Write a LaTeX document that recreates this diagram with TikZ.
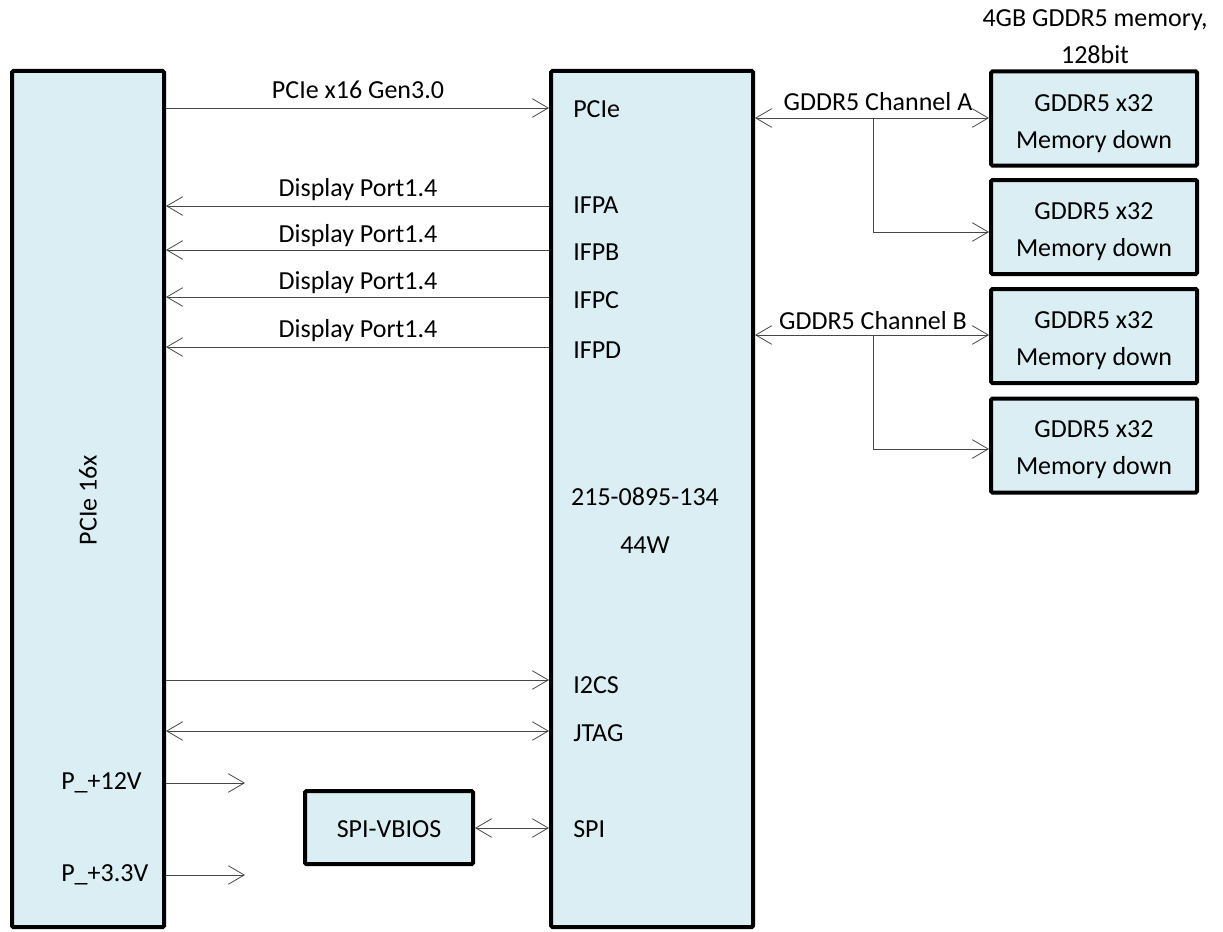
\documentclass[tikz,border=0pt]{standalone}
\usepackage{fontspec}
\setmainfont{Carlito}
\usetikzlibrary{arrows.meta}
\definecolor{boxfill}{RGB}{218,238,243}
\definecolor{wire}{RGB}{70,70,70}
\begin{document}
\begin{tikzpicture}[x=0.75pt,y=-0.75pt,
  every node/.style={font=\fontsize{19.5}{27.8}\selectfont},
  box/.style={draw=black, line width=3pt, fill=boxfill, rounded corners=1pt, inner sep=0pt},
  lbl/.style={inner sep=0pt},
  arr/.style={draw=wire, line width=0.75pt, -{Straight Barb[length=12pt,width=14pt,line width=0.6pt]}},
  biarr/.style={draw=wire, line width=0.75pt, {Straight Barb[length=12pt,width=14pt,line width=0.6pt]}-{Straight Barb[length=12pt,width=14pt,line width=0.6pt]}},
  wireline/.style={draw=wire, line width=0.75pt}]
\useasboundingbox (0,0) rectangle (1223,931);

% main boxes
\node[box, minimum width=114pt, minimum height=642pt] (L) at (88,499) {};
\node[lbl, rotate=90] (Ltxt) at (88,500) {PCIe 16x};
\node[box, minimum width=151.5pt, minimum height=642pt] (M) at (652,499) {};

% memory boxes
\node[box, minimum width=154.5pt, minimum height=70.5pt] (A1) at (1094,118.5) {};
\node[box, minimum width=154.5pt, minimum height=70.5pt] (A2) at (1094,227) {};
\node[box, minimum width=154.5pt, minimum height=70.5pt] (B1) at (1094,336) {};
\node[box, minimum width=154.5pt, minimum height=70.5pt] (B2) at (1094,445.5) {};
\node[lbl, align=center] (A1t) at (1094,123.5) {GDDR5 x32\\Memory down};
\node[lbl, align=center] (A2t) at (1094,232) {GDDR5 x32\\Memory down};
\node[lbl, align=center] (B1t) at (1094,340.5) {GDDR5 x32\\Memory down};
\node[lbl, align=center] (B2t) at (1094,450) {GDDR5 x32\\Memory down};
\node[lbl, align=center] (memtitle) at (1095,37) {4GB GDDR5 memory,\\128bit};

% SPI box
\node[box, minimum width=126pt, minimum height=54.75pt] (S) at (389,827.5) {};
\node[lbl] (St) at (389,829) {SPI-VBIOS};

% middle box texts
\node[lbl, anchor=west] (tPCIe) at (573,109) {PCIe};
\node[lbl, anchor=west] (tA) at (573,205) {IFPA};
\node[lbl, anchor=west] (tB) at (573,252) {IFPB};
\node[lbl, anchor=west] (tC) at (573,300) {IFPC};
\node[lbl, anchor=west] (tD) at (573,350) {IFPD};
\node[lbl] (chip) at (645,497) {215-0895-134};
\node[lbl] (watt) at (645,545) {44W};
\node[lbl, anchor=west] (tI2C) at (573,685) {I2CS};
\node[lbl, anchor=west] (tJTAG) at (573,733) {JTAG};
\node[lbl, anchor=west] (tSPI) at (573,829) {SPI};

% left box texts
\node[lbl, anchor=west] (p12) at (61,783) {P\_+12V};
\node[lbl, anchor=west] (p33) at (61,875) {P\_+3.3V};

% connector labels
\node[lbl] (lPCIe) at (358,90) {PCIe x16 Gen3.0};
\node[lbl] (lDA) at (358,190) {Display Port1.4};
\node[lbl] (lDB) at (358,236) {Display Port1.4};
\node[lbl] (lDC) at (358,283) {Display Port1.4};
\node[lbl] (lDD) at (358,331) {Display Port1.4};
\node[lbl] (lChA) at (878,102) {GDDR5 Channel A};
\node[lbl] (lChB) at (873,321) {GDDR5 Channel B};

% connectors left <-> middle
\draw[arr] (L.east |- 0,108) -- (M.west |- 0,108);
\draw[arr] (M.west |- 0,206) -- (L.east |- 0,206);
\draw[arr] (M.west |- 0,250) -- (L.east |- 0,250);
\draw[arr] (M.west |- 0,297) -- (L.east |- 0,297);
\draw[arr] (M.west |- 0,347) -- (L.east |- 0,347);
\draw[arr] (L.east |- 0,680) -- (M.west |- 0,680);
\draw[biarr] (L.east |- 0,731) -- (M.west |- 0,731);

% power arrows
\coordinate (p12end) at (245,783);
\coordinate (p33end) at (245,875);
\draw[arr] (L.east |- p12end) -- (p12end);
\draw[arr] (L.east |- p33end) -- (p33end);

% SPI
\draw[biarr] (S.east |- 0,828) -- (M.west |- 0,828);

% memory channels
\coordinate (brA) at (873,118);
\coordinate (brAd) at (873,232);
\draw[biarr] (M.east |- brA) -- (A1.west |- brA);
\draw[wireline] (brA) -- (brAd);
\draw[arr] (brAd) -- (A2.west |- brAd);

\coordinate (brB) at (873,335);
\coordinate (brBd) at (873,449);
\draw[biarr] (M.east |- brB) -- (B1.west |- brB);
\draw[wireline] (brB) -- (brBd);
\draw[arr] (brBd) -- (B2.west |- brBd);
\end{tikzpicture}
\end{document}
